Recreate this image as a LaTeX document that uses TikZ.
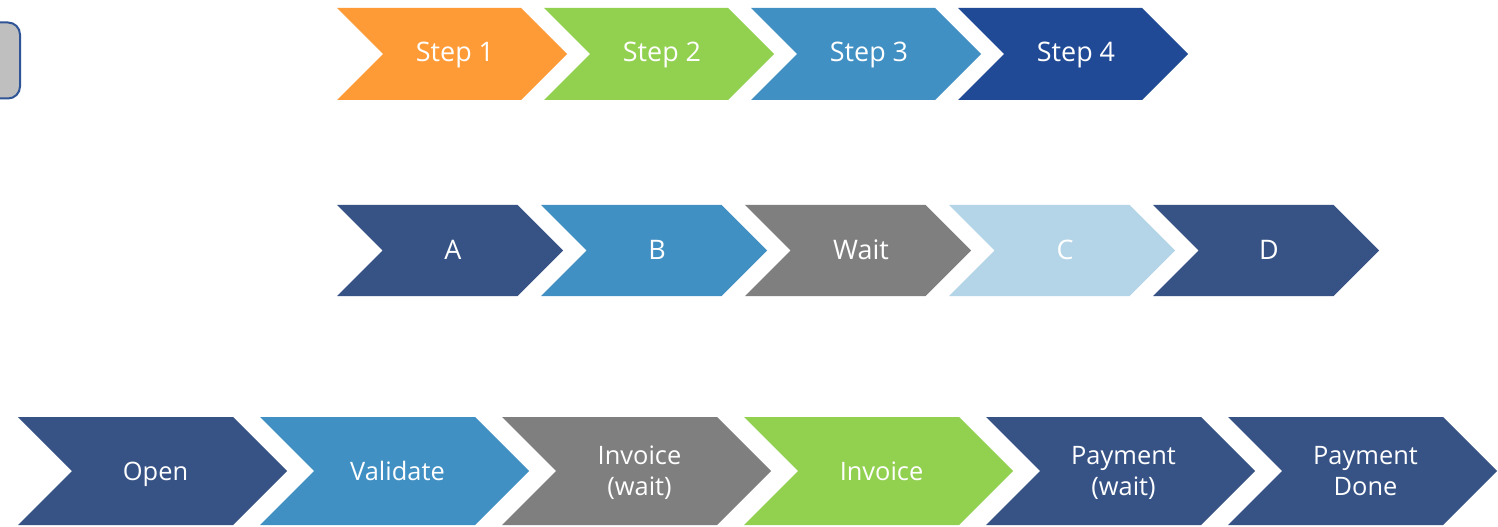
\documentclass[tikz,border=0pt]{standalone}
\usepackage{fontspec}
\setmainfont{Open Sans}
\definecolor{corange}{HTML}{FF9B37}
\definecolor{cgreen}{HTML}{92D050}
\definecolor{cblue}{HTML}{4190C4}
\definecolor{cnavy}{HTML}{214A96}
\definecolor{cslate}{HTML}{375386}
\definecolor{cgray}{HTML}{7F7F7F}
\definecolor{clight}{HTML}{B4D4E8}
\definecolor{boxfill}{HTML}{BFBFBF}
\definecolor{boxline}{HTML}{2F5597}
\newcommand\mychev[9]{% name, left x, top y, width, half height, colour, text, text style, text y-shift
  \fill[#6] (#2,#3) -- ++(#4-#5,0) -- ++(#5,#5) -- ++(-#5,#5) -- ++(-#4+#5,0) -- ++(#5,-#5) -- cycle;
  \node[chevtext,#8] (#1) at (#2+#4/2+3,#3+#5+#9) {#7};
}
\begin{document}
\begin{tikzpicture}[x=1bp,y=-1bp,
  chevtext/.style={text=white,align=center,inner sep=0pt,text depth=0pt},
  rowa/.style={font=\fontsize{27}{31}\selectfont,text height=19.3bp},
  rowb/.style={font=\fontsize{25.5}{31}\selectfont,text height=18.2bp},
]
\clip (0,0) rectangle (1498,527);
\fill[white] (0,0) rectangle (1498,527);
\node[draw=boxline,fill=boxfill,line width=2bp,rounded corners=12bp,
  minimum width=60bp,minimum height=76bp,inner sep=0pt] (box) at (-10,60.5) {};
% row 1
\mychev{s1}{337}{8}{230}{46}{corange}{Step 1}{rowa}{-2}
\mychev{s2}{544}{8}{230}{46}{cgreen}{Step 2}{rowa}{-2}
\mychev{s3}{751}{8}{230}{46}{cblue}{Step 3}{rowa}{-2}
\mychev{s4}{958}{8}{230}{46}{cnavy}{Step 4}{rowa}{-2}
% row 2
\mychev{a}{337}{205}{226}{45.5}{cslate}{A}{rowa}{-1}
\mychev{b}{541}{205}{226}{45.5}{cblue}{B}{rowa}{-1}
\mychev{w}{745}{205}{226}{45.5}{cgray}{Wait}{rowa}{-1}
\mychev{c}{949}{205}{226}{45.5}{clight}{C}{rowa}{-1}
\mychev{d}{1153}{205}{226}{45.5}{cslate}{D}{rowa}{-1}
% row 3
\mychev{open}{18}{417}{269}{54}{cslate}{Open}{rowb}{0}
\mychev{val}{260}{417}{269}{54}{cblue}{Validate}{rowb}{0}
\mychev{invw}{502}{417}{269}{54}{cgray}{Invoice\\(wait)}{rowb}{15.5}
\mychev{inv}{744}{417}{269}{54}{cgreen}{Invoice}{rowb}{0}
\mychev{payw}{986}{417}{269}{54}{cslate}{Payment\\(wait)}{rowb}{15.5}
\mychev{payd}{1228}{417}{269}{54}{cslate}{Payment\\Done}{rowb}{15.5}
\end{tikzpicture}
\end{document}
